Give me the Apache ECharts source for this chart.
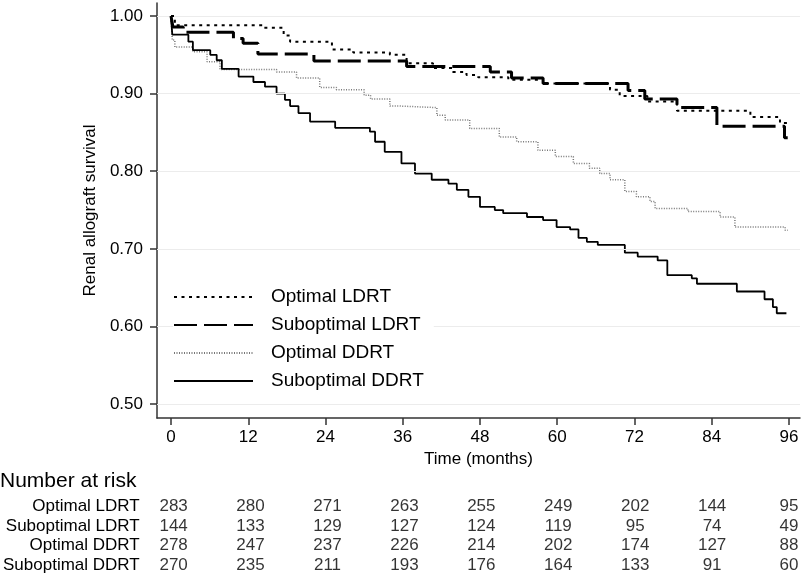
<!DOCTYPE html>
<html>
<head>
<meta charset="utf-8">
<script src="https://cdn.jsdelivr.net/npm/echarts@6/dist/echarts.min.js"></script>
<style>
html,body{margin:0;padding:0;background:#fff;}
#chart{width:805px;height:575px;}
</style>
</head>
<body>
<div id="chart"></div>
<script>
// ---- data ----
const months = [0, 12, 24, 36, 48, 60, 72, 84, 96];
const yTicks = [0.5, 0.6, 0.7, 0.8, 0.9, 1.0];
const groups = ['Optimal LDRT', 'Suboptimal LDRT', 'Optimal DDRT', 'Suboptimal DDRT'];

const optLdrtT = [0, 0.6, 14.3, 17.5, 18.5, 25, 28.3, 34, 36.6, 40.7, 43.8, 45.9, 47.7, 52.4, 57.8, 68.2, 69.7, 74, 78.6, 90, 94.6, 95.8];
const optLdrtS = [1.0, 0.988, 0.985, 0.975, 0.967, 0.957, 0.953, 0.950, 0.939, 0.933, 0.928, 0.924, 0.921, 0.918, 0.913, 0.905, 0.897, 0.890, 0.878, 0.870, 0.862, 0.862];

const subLdrtT = [0, 0.3, 1.9, 9.7, 11.2, 13.5, 22.2, 36.6, 49.6, 52.9, 57.8, 71, 73.6, 78.6, 84.8, 95.3, 95.8];
const subLdrtS = [1.0, 0.986, 0.979, 0.971, 0.965, 0.951, 0.942, 0.935, 0.928, 0.920, 0.913, 0.904, 0.893, 0.882, 0.858, 0.843, 0.843];

const optDdrtT = [0, 0.2, 0.6, 3.4, 5.6, 7.6, 16.4, 19.5, 23.1, 25.7, 30.0, 31.0, 34, 35.5, 41.3, 42.6, 46.4, 51, 53.7, 57, 59.7, 62.5, 65, 66.6, 68.2, 70.5, 72.3, 74.4, 75.2, 80.3, 85.3, 87.6, 95.4, 95.8];
const optDdrtS = [1.0, 0.969, 0.960, 0.954, 0.941, 0.931, 0.928, 0.920, 0.908, 0.905, 0.898, 0.893, 0.884, 0.882, 0.872, 0.866, 0.855, 0.844, 0.838, 0.827, 0.819, 0.810, 0.804, 0.797, 0.789, 0.774, 0.767, 0.761, 0.752, 0.748, 0.741, 0.728, 0.724, 0.724];

const subDdrtT = [0, 0.2, 2.7, 3.4, 6.1, 7.1, 7.9, 10.5, 12.8, 14.6, 16.4, 17.7, 18.5, 19.8, 21.6, 25.5, 30.9, 31.7, 33.2, 35.8, 37.9, 40.5, 43.1, 44.4, 46.2, 48, 50.3, 51.6, 55.3, 57.8, 59.9, 62, 63.3, 64.6, 66.3, 70.5, 72.5, 75.6, 77.1, 80.9, 81.7, 87.9, 92.2, 93.5, 94.1, 95.6];
const subDdrtS = [1.0, 0.976, 0.967, 0.956, 0.950, 0.943, 0.932, 0.922, 0.915, 0.909, 0.900, 0.892, 0.884, 0.875, 0.864, 0.856, 0.851, 0.838, 0.825, 0.810, 0.797, 0.789, 0.784, 0.776, 0.767, 0.754, 0.750, 0.746, 0.741, 0.737, 0.728, 0.725, 0.714, 0.709, 0.705, 0.695, 0.690, 0.685, 0.666, 0.662, 0.655, 0.645, 0.635, 0.625, 0.617, 0.617];

const riskOptLdrt = [283, 280, 271, 263, 255, 249, 202, 144, 95];
const riskSubLdrt = [144, 133, 129, 127, 124, 119, 95, 74, 49];
const riskOptDdrt = [278, 247, 237, 226, 214, 202, 174, 127, 88];
const riskSubDdrt = [270, 235, 211, 193, 176, 164, 133, 91, 60];

// ---- build ----
const pairs = (t, s) => t.map((v, i) => [v, s[i]]);
const riskRows = [riskOptLdrt, riskSubLdrt, riskOptDdrt, riskSubDdrt];
const riskData = [];
riskRows.forEach((row, g) => row.forEach((n, i) => riskData.push([months[i], groups[g], n])));

const FONT = '"Liberation Sans", Arial, Helvetica, sans-serif';
const axisColor = '#333';

const chart = echarts.init(document.getElementById('chart'), null, {renderer: 'canvas'});
chart.setOption({
  animation: false,
  backgroundColor: '#fff',
  textStyle: {fontFamily: FONT, color: '#000'},
  title: {
    text: 'Number at risk', left: 0, top: 471, padding: 0,
    textStyle: {fontFamily: FONT, fontSize: 21, fontWeight: 'normal', color: '#000'}
  },
  legend: {
    orient: 'vertical', left: 173, top: 287, padding: [0, 10, 0, 0],
    backgroundColor: '#fff', z: 10,
    itemWidth: 79, itemHeight: 14, itemGap: 8,
    data: groups,
    itemStyle: {opacity: 0, borderWidth: 0},
    textStyle: {fontFamily: FONT, fontSize: 19, color: '#000', lineHeight: 20, padding: [0, 0, 0, 13]}
  },
  grid: [
    {left: 157, right: 5, top: 3, bottom: 157},
    {left: 157, right: 5, top: 497, height: 80}
  ],
  xAxis: [
    {
      type: 'value', gridIndex: 0, min: -2.175, max: 97.71,
      axisLine: {show: true, onZero: false, lineStyle: {color: axisColor, width: 1.5}},
      axisTick: {show: true, customValues: months, length: 7, lineStyle: {color: axisColor, width: 1.5}},
      axisLabel: {customValues: months, fontSize: 17, color: '#000', margin: 11, fontFamily: FONT},
      splitLine: {show: false},
      name: 'Time (months)', nameLocation: 'middle', nameGap: 31,
      nameTextStyle: {fontSize: 17, color: '#000', fontFamily: FONT}
    },
    {
      type: 'value', gridIndex: 1, min: -2.175, max: 97.71, show: false
    }
  ],
  yAxis: [
    {
      type: 'value', gridIndex: 0, min: 0.482, max: 1.0168,
      axisLine: {show: true, onZero: false, lineStyle: {color: axisColor, width: 1.5}},
      axisTick: {show: true, customValues: yTicks, length: 7, lineStyle: {color: axisColor, width: 1.5}},
      axisLabel: {customValues: yTicks, fontSize: 17, color: '#000', margin: 14, fontFamily: FONT,
        formatter: v => v.toFixed(2)},
      splitLine: {show: false},
      name: 'Renal allograft survival', nameLocation: 'middle', nameGap: 56, nameRotate: 90,
      nameTextStyle: {fontSize: 17, color: '#000', fontFamily: FONT}
    },
    {
      type: 'category', gridIndex: 1, data: groups, inverse: true,
      axisLine: {show: false}, axisTick: {show: false}, splitLine: {show: false},
      axisLabel: {interval: 0, fontSize: 17, color: '#000', margin: 20, fontFamily: FONT}
    }
  ],
  series: [
    {
      name: 'grid', type: 'line', data: [], z: 1, silent: true,
      markLine: {
        silent: true, symbol: 'none', label: {show: false},
        lineStyle: {color: '#ececec', width: 1.2, type: 'solid'},
        data: yTicks.map(v => ({yAxis: v}))
      }
    },
    {
      name: 'Optimal DDRT', type: 'line', step: 'end', symbol: 'none', z: 3,
      data: pairs(optDdrtT, optDdrtS),
      lineStyle: {color: '#777', width: 1.5, type: [1, 1.5]},
      itemStyle: {color: '#777'}
    },
    {
      name: 'Suboptimal DDRT', type: 'line', step: 'end', symbol: 'none', z: 4,
      data: pairs(subDdrtT, subDdrtS),
      lineStyle: {color: '#000', width: 1.8, type: 'solid'},
      itemStyle: {color: '#000'}
    },
    {
      name: 'Optimal LDRT', type: 'line', step: 'end', symbol: 'none', z: 5,
      data: pairs(optLdrtT, optLdrtS),
      lineStyle: {color: '#000', width: 2, type: [3, 4.5]},
      itemStyle: {color: '#000'}
    },
    {
      name: 'Suboptimal LDRT', type: 'line', step: 'end', symbol: 'none', z: 6,
      data: pairs(subLdrtT, subLdrtS),
      lineStyle: {color: '#000', width: 3, type: [23, 7]},
      itemStyle: {color: '#000'}
    },
    {
      name: 'risk', type: 'scatter', xAxisIndex: 1, yAxisIndex: 1,
      symbolSize: 1, itemStyle: {color: 'rgba(0,0,0,0)'}, silent: true,
      data: riskData,
      label: {show: true, position: 'inside', formatter: p => String(p.value[2]),
        fontSize: 17, color: '#000', fontFamily: FONT}
    }
  ]
});
</script>
</body>
</html>
